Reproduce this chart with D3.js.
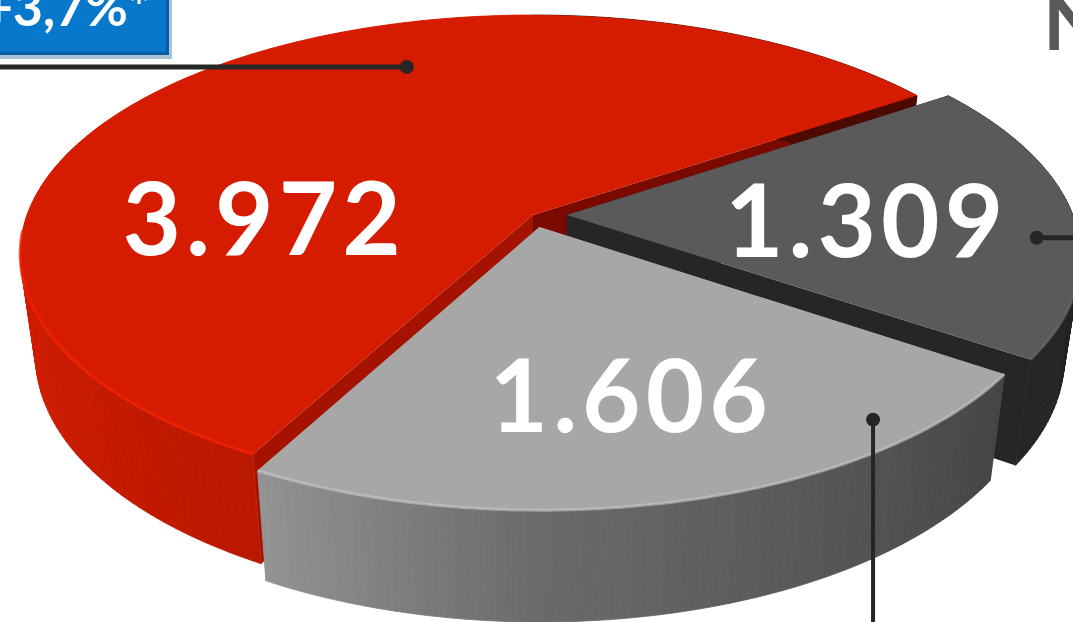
<!DOCTYPE html>
<html>
<head>
<meta charset="utf-8">
<script src="https://cdn.jsdelivr.net/npm/d3@7"></script>
<style>
  html, body { margin: 0; padding: 0; background: #fff; overflow: hidden; }
  svg { display: block; }
  text { font-family: Lato, "Open Sans", sans-serif; }
</style>
</head>
<body>
<svg id="chart" width="1073" height="622"></svg>
<script>
// slice data, clockwise from the red slice
const values = [3972, 1309, 1606];
const topColors = ["#d51c00", "#5a5a5a", "#a7a7a7"];
const sideColors = ["#d81c00", "#5c5c5c", "#ababab"];
const wallColors = [["#a51200", "#7a0a00"], ["#262626", "#262626"], ["#8a8a8a", "#8a8a8a"]];
const explode = [0, 0.067, 0.053];
// annotation anchors (disc angle in degrees, radius)
const labelAt = [[178, 0.53], [2.5, 0.59], [76, 0.66]];
const dotAt = [[248.6, 0.763], [6, 0.918], [51.3, 0.92]];
const badgeText = "+3,7%*";

const svg = d3.select("#chart");
const W = 1073, H = 622;

const de = d3.formatLocale({ decimal: ",", thousands: ".", grouping: [3], currency: ["", "€"] });
const fmt = de.format(",d");

// perspective disc projection
const CX = 533, CY = 215, RX = 506, RY = 232.6, P = 0.163, DEPTH = 100, SHRINK = 0.97;
function proj(u, v, bottom) {
    const d = 1 - P * v;
    const s = bottom ? SHRINK : 1;
    return [CX + RX * u * s / d, CY + (RY * v * s + (bottom ? DEPTH : 0)) / d];
}
const rad = Math.PI / 180;

// d3 angles are clockwise from 12 o'clock; convert to screen angle from +x
const pie = d3.pie().sort(null).startAngle(208.3 * rad).endAngle(208.3 * rad + 2 * Math.PI);
const arcs = pie(values);

const light = d3.scaleLinear().domain([-90, 0, 34, 90, 118, 180, 270]).range([0.35, 0.36, 0.4, 0.62, 0.86, 1.0, 1.0]).clamp(true);
function shade(c, f) {
    const col = d3.rgb(c);
    return d3.rgb(col.r * f, col.g * f, col.b * f).toString();
}
function normDeg(t) { let x = t % 360; if (x > 270) x -= 360; if (x < -90) x += 360; return x; }

const line = d3.line();

arcs.forEach((a, i) => {
    const t0 = a.startAngle - Math.PI / 2, t1 = a.endAngle - Math.PI / 2;
    const mid = (t0 + t1) / 2;
    const ou = explode[i] * Math.cos(mid), ov = explode[i] * Math.sin(mid);
    const n = Math.max(8, Math.round((t1 - t0) / rad));
    const pts = d3.range(n + 1).map(k => {
        const t = t0 + (t1 - t0) * k / n;
        return { t, u: Math.cos(t) + ou, v: Math.sin(t) + ov };
    });
    const g = svg.append("g").attr("class", "slice");

    // radial walls
    [t0, t1].forEach((t, j) => {
        const u = Math.cos(t) + ou, v = Math.sin(t) + ov;
        g.append("path")
            .attr("d", line([proj(ou, ov, false), proj(u, v, false), proj(u, v, true), proj(ou, ov, true)]) + "Z")
            .attr("fill", wallColors[i][j]);
    });

    // outer side, strip by strip from back to front
    const strips = d3.range(n).map(k => [pts[k], pts[k + 1]]);
    strips.sort((p, q) => (p[0].v + p[1].v) - (q[0].v + q[1].v));
    strips.forEach(([p, q]) => {
        const f = light(normDeg((p.t + q.t) / 2 / rad));
        g.append("path")
            .attr("d", line([proj(p.u, p.v, false), proj(q.u, q.v, false), proj(q.u, q.v, true), proj(p.u, p.v, true)]) + "Z")
            .attr("fill", shade(sideColors[i], f))
            .attr("stroke", shade(sideColors[i], f))
            .attr("stroke-width", 0.8);
    });

    // top face
    g.append("path")
        .attr("d", line([proj(ou, ov, false)].concat(pts.map(p => proj(p.u, p.v, false)))) + "Z")
        .attr("fill", topColors[i]);

    // soft bevel on the front rim
    const front = pts.filter(p => Math.sin(p.t) > 0.05);
    if (front.length > 1) {
        g.append("path")
            .attr("d", line(front.map(p => proj(p.u, p.v, false))))
            .attr("fill", "none")
            .attr("stroke", d3.rgb(topColors[i]).brighter(0.5))
            .attr("stroke-width", 3)
            .attr("opacity", 0.6);
    }

    a.ou = ou; a.ov = ov;
});

// leader lines and dots
const ink = "#262626";
arcs.forEach((a, i) => {
    const t = dotAt[i][0] * rad, r = dotAt[i][1];
    const [x, y] = proj(r * Math.cos(t) + a.ou, r * Math.sin(t) + a.ov, false);
    let end;
    if (i === 0) end = [0, y];
    else if (i === 1) end = [W, y];
    else end = [x, H];
    svg.append("line")
        .attr("x1", x).attr("y1", y).attr("x2", end[0]).attr("y2", end[1])
        .attr("stroke", ink).attr("stroke-width", i === 2 ? 4 : 5);
    svg.append("circle").attr("cx", x).attr("cy", y).attr("r", 7).attr("fill", ink);
});

// value labels
arcs.forEach((a, i) => {
    const t = labelAt[i][0] * rad, r = labelAt[i][1];
    const [x, y] = proj(r * Math.cos(t) + a.ou, r * Math.sin(t) + a.ov, false);
    svg.append("text")
        .attr("x", x).attr("y", y + 36)
        .attr("text-anchor", "middle")
        .attr("fill", "#fff")
        .attr("font-size", 101)
        .attr("font-weight", 700)
        .attr("letter-spacing", 5)
        .text(fmt(a.data));
});

// growth badge, top left (cropped)
const badge = svg.append("g");
badge.append("rect").attr("x", -10).attr("y", -12).attr("width", 182).attr("height", 71).attr("fill", "#0b4a80").attr("opacity", 0.35);
badge.append("rect").attr("x", -10).attr("y", -12).attr("width", 179).attr("height", 67).attr("fill", "#0a5ea3");
badge.append("rect").attr("x", -10).attr("y", -12).attr("width", 176).attr("height", 64).attr("fill", "#0778cc");
badge.append("text")
    .attr("x", 150).attr("y", 26)
    .attr("text-anchor", "end")
    .attr("fill", "#fff")
    .attr("font-size", 52)
    .attr("font-weight", 700)
    .text(badgeText);

// cropped heading letter, top right
svg.append("text")
    .attr("x", 1043).attr("y", 50)
    .attr("fill", "#595959")
    .attr("font-size", 80)
    .attr("font-weight", 700)
    .text("N");
</script>
</body>
</html>
